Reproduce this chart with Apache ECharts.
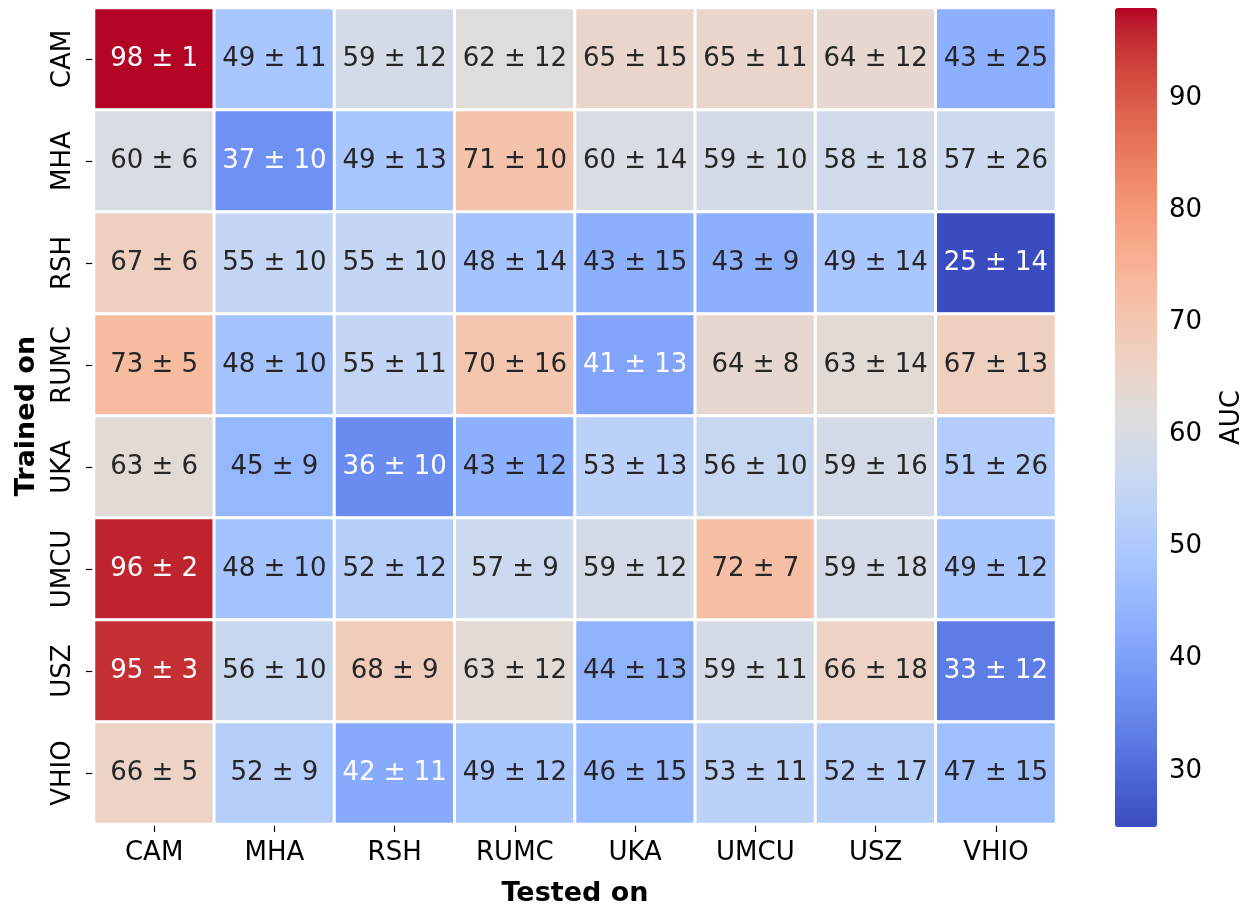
<!DOCTYPE html>
<html>
<head>
<meta charset="utf-8">
<title>AUC cross-site heatmap</title>
<script src="https://cdn.jsdelivr.net/npm/echarts@6/dist/echarts.min.js"></script>
<style>
  html, body { margin: 0; padding: 0; background: #fff; }
  #chart { width: 1249px; height: 912px; }
</style>
</head>
<body>
<div id="chart"></div>
<script>
// Sites used for training (rows) and testing (columns)
const trainedOn = ['CAM', 'MHA', 'RSH', 'RUMC', 'UKA', 'UMCU', 'USZ', 'VHIO'];
const testedOn  = ['CAM', 'MHA', 'RSH', 'RUMC', 'UKA', 'UMCU', 'USZ', 'VHIO'];

// Mean AUC (%) per train/test pair, one row per training site
const aucMean = [
  [98, 49, 59, 62, 65, 65, 64, 43],
  [60, 37, 49, 71, 60, 59, 58, 57],
  [67, 55, 55, 48, 43, 43, 49, 25],
  [73, 48, 55, 70, 41, 64, 63, 67],
  [63, 45, 36, 43, 53, 56, 59, 51],
  [96, 48, 52, 57, 59, 72, 59, 49],
  [95, 56, 68, 63, 44, 59, 66, 33],
  [66, 52, 42, 49, 46, 53, 52, 47]
];

// Standard deviation of AUC (%) for the same pairs
const aucStd = [
  [1, 11, 12, 12, 15, 11, 12, 25],
  [6, 10, 13, 10, 14, 10, 18, 26],
  [6, 10, 10, 14, 15, 9, 14, 14],
  [5, 10, 11, 16, 13, 8, 14, 13],
  [6, 9, 10, 12, 13, 10, 16, 26],
  [2, 10, 12, 9, 12, 7, 18, 12],
  [3, 10, 9, 12, 13, 11, 18, 12],
  [5, 9, 11, 12, 15, 11, 17, 15]
];

// Colour scale range and colourbar ticks
const colorMin = 25;
const colorMax = 98;
const colorbarTicks = [30, 40, 50, 60, 70, 80, 90];

// Diverging cool-warm palette, evenly spaced from low to high
const coolwarm = [
  '#3b4cc0', '#445acc', '#4d68d7', '#5775e1', '#6282ea', '#6c8ef1', '#779af7', '#82a5fb',
  '#8db0fe', '#98b9ff', '#a3c2ff', '#aec9fd', '#b8d0f9', '#c2d5f4', '#ccd9ee', '#d5dbe6',
  '#dddddd', '#e5d8d1', '#ecd3c6', '#f1ccb9', '#f5c4ad', '#f7bba0', '#f7b194', '#f7a687',
  '#f49a7b', '#f18d6f', '#ec7f63', '#e57058', '#de604d', '#d55042', '#cb3e38', '#c0282f',
  '#b40426'
];

const FONT = 'DejaVu Sans';
const DARK_TEXT = '#262626';

function hexToRgb(h) {
  return [parseInt(h.slice(1, 3), 16), parseInt(h.slice(3, 5), 16), parseInt(h.slice(5, 7), 16)];
}

// Same linear interpolation the visual map applies
function colorAt(v) {
  let t = (v - colorMin) / (colorMax - colorMin);
  t = Math.max(0, Math.min(1, t));
  const pos = t * (coolwarm.length - 1);
  const i = Math.min(Math.floor(pos), coolwarm.length - 2);
  const f = pos - i;
  const a = hexToRgb(coolwarm[i]), b = hexToRgb(coolwarm[i + 1]);
  return a.map((c, k) => c + (b[k] - c) * f);
}

function luminance(rgb) {
  const lin = rgb.map(c => {
    c /= 255;
    return c <= 0.03928 ? c / 12.92 : Math.pow((c + 0.055) / 1.055, 2.4);
  });
  return 0.2126 * lin[0] + 0.7152 * lin[1] + 0.0722 * lin[2];
}

// Heatmap cells: [column, row, mean], annotated with mean ± std
const cells = [];
trainedOn.forEach((_, r) => {
  testedOn.forEach((__, c) => {
    const m = aucMean[r][c];
    const lum = luminance(colorAt(m));
    cells.push({
      value: [c, r, m],
      std: aucStd[r][c],
      label: { color: lum > 0.42 ? DARK_TEXT : '#ffffff' }
    });
  });
});

const chart = echarts.init(document.getElementById('chart'), null, { renderer: 'canvas' });

chart.setOption({
  backgroundColor: '#ffffff',
  animation: false,
  textStyle: { fontFamily: FONT },
  grid: [
    { left: 94, top: 8, width: 962, height: 819, containLabel: false },
    { left: 1115, top: 8, width: 42, height: 819, containLabel: false }
  ],
  xAxis: [
    {
      type: 'category',
      gridIndex: 0,
      data: testedOn,
      position: 'bottom',
      axisLine: { show: false },
      axisTick: { show: true, interval: 0, alignWithLabel: true, length: 8, lineStyle: { color: '#000', width: 1.2 } },
      axisLabel: { interval: 0, fontFamily: FONT, fontSize: 26, color: '#000', margin: 16 },
      splitLine: { show: false },
      name: 'Tested on',
      nameLocation: 'middle',
      nameGap: 56,
      nameTextStyle: { fontFamily: FONT, fontSize: 27, fontWeight: 'bold', color: '#000' }
    },
    {
      type: 'value',
      gridIndex: 1,
      show: false,
      min: 0,
      max: 1
    }
  ],
  yAxis: [
    {
      type: 'category',
      gridIndex: 0,
      data: trainedOn,
      inverse: true,
      axisLine: { show: false },
      axisTick: { show: true, interval: 0, alignWithLabel: true, length: 8, lineStyle: { color: '#000', width: 1.2 } },
      axisLabel: { interval: 0, fontFamily: FONT, fontSize: 26, color: '#000', rotate: 90, margin: 18 },
      splitLine: { show: false },
      name: 'Trained on',
      nameLocation: 'middle',
      nameRotate: 90,
      nameGap: 54,
      nameTextStyle: { fontFamily: FONT, fontSize: 27, fontWeight: 'bold', color: '#000' }
    },
    {
      type: 'value',
      gridIndex: 1,
      position: 'right',
      min: colorMin,
      max: colorMax,
      axisLine: { show: false },
      axisTick: { show: true, customValues: colorbarTicks, length: 8, lineStyle: { color: '#000', width: 1.2 } },
      axisLabel: { show: true, customValues: colorbarTicks, fontFamily: FONT, fontSize: 26, color: '#000', margin: 12 },
      splitLine: { show: false },
      name: 'AUC',
      nameLocation: 'middle',
      nameRotate: 90,
      nameGap: 62,
      nameTextStyle: { fontFamily: FONT, fontSize: 26, color: '#000' }
    }
  ],
  visualMap: {
    type: 'continuous',
    seriesIndex: 0,
    min: colorMin,
    max: colorMax,
    show: true,
    calculable: false,
    hoverLink: false,
    realtime: false,
    orient: 'vertical',
    left: 1115,
    top: 8,
    padding: 0,
    itemWidth: 42,
    itemHeight: 819,
    text: null,
    showLabel: false,
    inRange: { color: coolwarm }
  },
  series: [
    {
      type: 'heatmap',
      xAxisIndex: 0,
      yAxisIndex: 0,
      data: cells,
      itemStyle: { borderColor: '#ffffff', borderWidth: 3 },
      label: {
        show: true,
        fontFamily: FONT,
        fontSize: 26,
        formatter: p => p.data.value[2] + ' ± ' + p.data.std
      },
      emphasis: { disabled: true }
    }
  ]
});
</script>
</body>
</html>
